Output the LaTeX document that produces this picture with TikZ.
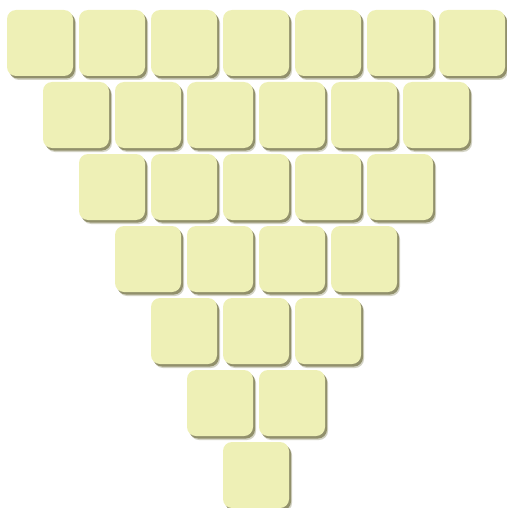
\documentclass[tikz,border=0pt]{standalone}
\usepackage{tikz}
\usetikzlibrary{shadows}
\definecolor{tilefill}{RGB}{238, 240, 182}
\definecolor{tileshade}{RGB}{110, 108, 60}

\tikzset{
  tile/.style={minimum size=66pt, inner sep=0pt, rounded corners=9pt,
    fill=tilefill, draw=none,
    drop shadow={shadow xshift=3pt, shadow yshift=-4pt, fill=tileshade, opacity=0.3},
    drop shadow={shadow xshift=2pt, shadow yshift=-2.5pt, fill=tileshade, opacity=0.65}}
}

\begin{document}
\begin{tikzpicture}[x=1pt, y=-1pt]
    \useasboundingbox (0,0) rectangle (506,508);
    % rows of tiles, narrowing downwards
    \foreach \r in {0,...,6}{
        \pgfmathtruncatemacro{\last}{6-\r}
        \foreach \c in {0,...,\last}{
            \node[tile] (t-\r-\c) at (40+36*\r+72*\c, 43+72*\r) {};
        }
    }
\end{tikzpicture}
\end{document}
